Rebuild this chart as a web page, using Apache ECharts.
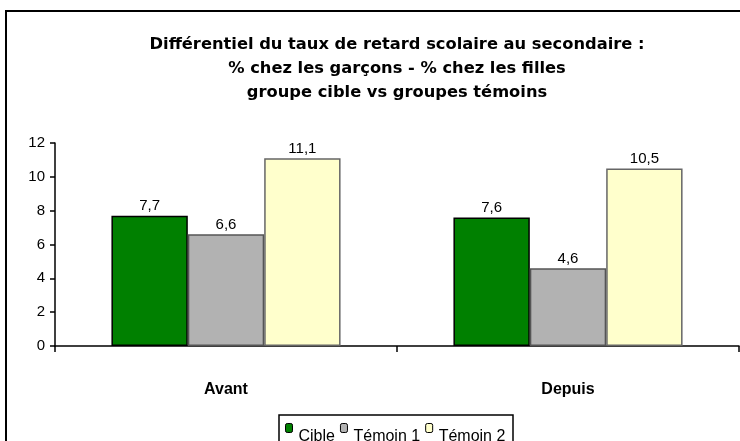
<!DOCTYPE html>
<html>
<head>
<meta charset="utf-8">
<script src="https://cdn.jsdelivr.net/npm/echarts@6/dist/echarts.min.js"></script>
<style>
  html, body { margin: 0; padding: 0; background: #fff; }
  #chart { width: 740px; height: 441px; }
</style>
</head>
<body>
<div id="chart"></div>
<script>
// données
var categories = ['Avant', 'Depuis'];
var seriesNames = ['Cible', 'Témoin 1', 'Témoin 2'];
var cible = [7.7, 7.6];
var temoin1 = [6.6, 4.6];
var temoin2 = [11.1, 10.5];
var yTicks = [0, 2, 4, 6, 8, 10, 12];

var colors = ['#008000', '#b2b2b2', '#ffffcc'];
var borders = ['#000000', '#555555', '#666666'];
var font = 'Liberation Sans, Arial, sans-serif';

var chart = echarts.init(document.getElementById('chart'));

var makeSeries = function (name, data, i) {
    return {
        name: name,
        type: 'bar',
        data: data,
        barGap: '0%',
        barCategoryGap: '33%',
        itemStyle: { color: colors[i], borderColor: borders[i], borderWidth: 1.5 },
        label: {
            show: true,
            position: 'top',
            distance: 2,
            fontFamily: font,
            fontSize: 15,
            color: '#000',
            formatter: function (p) { return String(p.value).replace('.', ','); }
        }
    };
};

var option = {
    animation: false,
    backgroundColor: '#fff',
    color: colors,
    graphic: [{
        // cadre extérieur
        type: 'rect',
        shape: { x: 6, y: 11, width: 745, height: 450 },
        style: { fill: 'none', stroke: '#000', lineWidth: 2 },
        z: 0
    }, {
        // cadre de la légende
        type: 'rect',
        shape: { x: 279, y: 415, width: 234, height: 40 },
        style: { fill: 'none', stroke: '#000', lineWidth: 1.5 },
        z: 0
    }],
    title: {
        text: 'Différentiel du taux de retard scolaire au secondaire :\n% chez les garçons - % chez les filles\ngroupe cible vs groupes témoins',
        left: 392,
        textAlign: 'center',
        top: 28,
        textStyle: { fontFamily: 'DejaVu Sans', fontSize: 16.3, fontWeight: 'bold', lineHeight: 24, color: '#000' }
    },
    legend: {
        data: seriesNames,
        left: 285,
        top: 423,
        padding: 0,
        itemWidth: 7,
        itemHeight: 9,
        itemGap: 5,
        itemStyle: { borderColor: '#000', borderWidth: 1 },
        formatter: function (name) { return '{t|' + name + '}'; },
        textStyle: {
            fontFamily: font, fontSize: 16, color: '#000',
            rich: { t: { fontFamily: font, fontSize: 16, color: '#000', padding: [18, 0, 0, 1] } }
        }
    },
    grid: { left: 55, right: 1, top: 143, bottom: 95, containLabel: false },
    xAxis: {
        type: 'category',
        data: categories,
        axisLine: { lineStyle: { color: '#000', width: 1.5 } },
        axisTick: { show: true, length: 6, lineStyle: { color: '#000', width: 1.5 } },
        axisLabel: { fontFamily: font, fontSize: 16, fontWeight: 'bold', color: '#000', margin: 36 }
    },
    yAxis: {
        type: 'value',
        min: yTicks[0],
        max: yTicks[yTicks.length - 1],
        interval: 2,
        splitLine: { show: false },
        axisLine: { show: true, lineStyle: { color: '#000', width: 1.5 } },
        axisTick: { show: true, length: 5, lineStyle: { color: '#000', width: 1.5 } },
        axisLabel: { fontFamily: font, fontSize: 15, color: '#000', margin: 10 }
    },
    series: [
        makeSeries(seriesNames[0], cible, 0),
        makeSeries(seriesNames[1], temoin1, 1),
        makeSeries(seriesNames[2], temoin2, 2)
    ]
};

chart.setOption(option);
</script>
</body>
</html>
